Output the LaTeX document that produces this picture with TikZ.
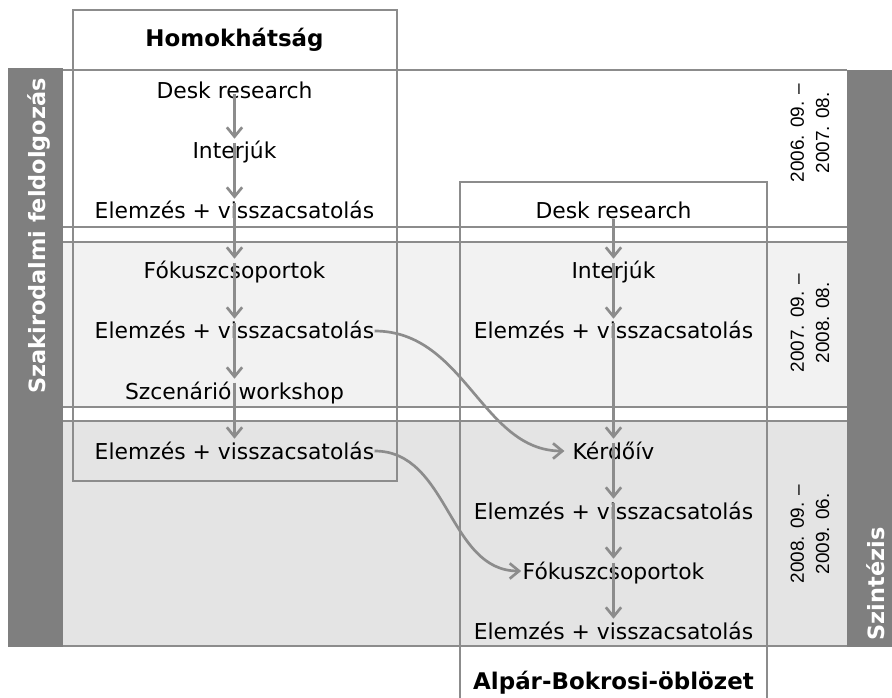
\documentclass[tikz,border=0pt]{standalone}
\usepackage{fontspec}
\setmainfont{DejaVu Sans}
\newfontfamily\datefont{Liberation Sans}
\usetikzlibrary{arrows.meta}
\definecolor{barg}{HTML}{7F7F7F}
\definecolor{lineg}{HTML}{8C8C8C}
\definecolor{bandA}{HTML}{F2F2F2}
\definecolor{bandB}{HTML}{E4E4E4}
\begin{document}
\begin{tikzpicture}[x=0.75pt,y=-0.75pt,
  grid/.style={draw=lineg, line width=2pt},
  txt/.style={font=\fontsize{16.4}{19}\selectfont, inner sep=0pt, text height=12pt, text depth=0pt},
  ttl/.style={font=\bfseries\fontsize{17.2}{20}\selectfont, inner sep=0pt, text height=12.5pt, text depth=0pt},
  bartxt/.style={font=\bfseries\fontsize{16.8}{20}\selectfont, text=white, rotate=90, inner sep=0pt, text height=12.2pt, text depth=0pt},
  datetxt/.style={font=\datefont\fontsize{14.2}{19}\selectfont, rotate=90, align=center, inner sep=0pt},
  arr/.style={draw=lineg, line width=2pt, -{Straight Barb[length=7pt,width=11.5pt]}, shorten >=3pt},
]
\useasboundingbox (0,0) rectangle (892,698);
\fill[white] (0,0) rectangle (892,698);
% bands
\fill[white] (63,70) rectangle (847,227);
\fill[bandA] (63,242) rectangle (847,407);
\fill[bandB] (63,421) rectangle (847,646);
% side bars
\fill[barg] (8,68) rectangle (63,647);
\fill[barg] (847,70) rectangle (892,647);
% band lines
\foreach \y in {70,227,242,407,421,646} \draw[grid] (63,\y) -- (847,\y);
% region boxes
\draw[grid] (73,10) rectangle (397,481);
\draw[grid] (460,705) -- (460,182) -- (767,182) -- (767,705);
% titles
\node[ttl] (hom) at (234.5,38) {Homokhátság};
\node[ttl] (alp) at (613.5,681) {Alpár-Bokrosi-öblözet};
% left column
\node[txt] (l1) at (234.5,91) {Desk research};
\node[txt] (l2) at (234.5,151) {Interjúk};
\node[txt] (l3) at (234.5,211) {Elemzés + visszacsatolás};
\node[txt] (l4) at (234.5,271) {Fókuszcsoportok};
\node[txt] (l5) at (234.5,331) {Elemzés + visszacsatolás};
\node[txt] (l6) at (234.5,391) {Szcenárió workshop};
\node[txt] (l7) at (234.5,451) {Elemzés + visszacsatolás};
% right column
\node[txt] (r1) at (613.5,211) {Desk research};
\node[txt] (r2) at (613.5,271) {Interjúk};
\node[txt] (r3) at (613.5,331) {Elemzés + visszacsatolás};
\node[txt] (r4) at (613.5,451) {Kérdőív};
\node[txt] (r5) at (613.5,511) {Elemzés + visszacsatolás};
\node[txt] (r6) at (613.5,571) {Fókuszcsoportok};
\node[txt] (r7) at (613.5,631) {Elemzés + visszacsatolás};
% dates
\node[datetxt] (d1) at (810,133) {2006. 09. –\\2007. 08.};
\node[datetxt] (d2) at (810,323) {2007. 09. –\\2008. 08.};
\node[datetxt] (d3) at (810,534) {2008. 09. –\\2009. 06.};
% bar labels
\node[bartxt] (szak) at (37,236) {Szakirodalmi feldolgozás};
\node[bartxt] (szin) at (876,584) {Szintézis};
% arrows left
\draw[arr, shorten <=-4pt] (l1.south) -- (l2.north);
\draw[arr] (l2.north) -- (l3.north);
\draw[arr] (l3.north) -- (l4.north);
\draw[arr] (l4.north) -- (l5.north);
\draw[arr] (l5.north) -- (l6.north);
\draw[arr] (l6.north) -- (l7.north);
% arrows right
\draw[arr] (r1.south) -- (r2.north);
\draw[arr] (r2.north) -- (r3.north);
\draw[arr] (r3.north) -- (r4.north);
\draw[arr] (r4.north) -- (r5.north);
\draw[arr] (r5.north) -- (r6.north);
\draw[arr] (r6.north) -- (r7.north);
% cross arrows
\draw[arr, shorten >=6pt] (l5.east) to[out=0,in=180] (r4.west);
\draw[arr, shorten >=1pt] (l7.east) to[out=0,in=180] (r6.west);
\end{tikzpicture}
\end{document}
